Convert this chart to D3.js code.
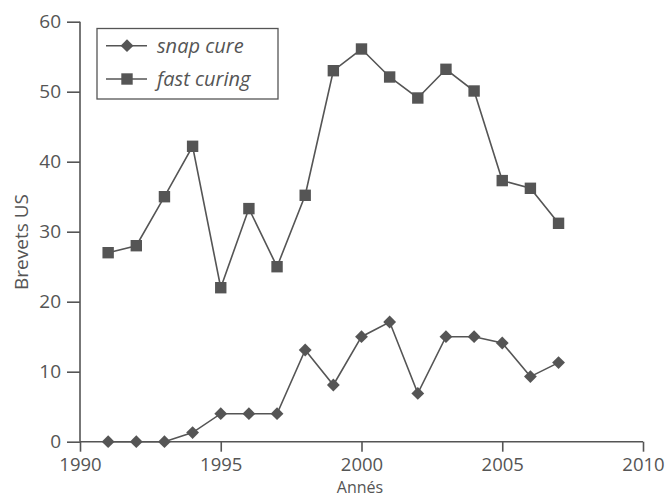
<!DOCTYPE html>
<html><head><meta charset="utf-8">
<script src="https://cdn.jsdelivr.net/npm/d3@7"></script>
<style>body{margin:0;background:#fff;} svg{display:block;font-family:"Open Sans",sans-serif;}</style>
</head><body><svg id="c" width="670" height="498"></svg>
<script>
const years = [1991,1992,1993,1994,1995,1996,1997,1998,1999,2000,2001,2002,2003,2004,2005,2006,2007];
const snapCure = [0,0,0,1.3,4,4,4,13.1,8.1,15,17.1,6.9,15,15,14.1,9.3,11.3];
const fastCuring = [27,28,35,42.2,22,33.3,25,35.2,53,56.1,52.1,49.1,53.2,50.1,37.3,36.2,31.2];
const xTicks = [1990,1995,2000,2005,2010];
const yTicks = [0,10,20,30,40,50,60];
const seriesNames = ["snap cure","fast curing"];

const col = "#555";
const svg = d3.select("#c");
const x = d3.scaleLinear().domain([1990,2010]).range([80,643]);
const y = d3.scaleLinear().domain([0,60]).range([441.7,21.7]);

// axes
const xa = svg.append("g").attr("transform","translate(0,441.7)")
  .call(d3.axisBottom(x).tickValues(xTicks).tickFormat(d3.format("d")).tickSize(10).tickPadding(6));
const ya = svg.append("g").attr("transform","translate(80,0)")
  .call(d3.axisLeft(y).tickValues(yTicks).tickSize(13).tickPadding(6));
[xa,ya].forEach(a=>{
  a.select(".domain").attr("stroke",col).attr("stroke-width",1.6);
  a.selectAll(".tick line").attr("stroke",col).attr("stroke-width",1.6);
  a.selectAll(".tick text").attr("fill",col).attr("font-size",19).attr("font-family","Open Sans, sans-serif");
});
xa.selectAll(".tick text").attr("font-size",18.5);
xa.select(".domain").attr("d",`M${x(1990)},0H${x(2010)}`);
ya.select(".domain").attr("d",`M0,${y(60)}V${y(0)}`);

svg.append("text").attr("x",360).attr("y",493).attr("text-anchor","middle")
  .attr("fill",col).attr("font-size",16).text("Annés");
svg.append("text").attr("transform","translate(28,242) rotate(-90)").attr("text-anchor","middle")
  .attr("fill",col).attr("font-size",19).text("Brevets US");

const line = d3.line().x((d,i)=>x(years[i])).y(d=>y(d));
const sq = d3.symbol().type(d3.symbolSquare).size(130);
const dm = d3.symbol().type(d3.symbolDiamond2).size(105);

function drawSeries(vals, sym){
  svg.append("path").datum(vals).attr("d",line).attr("fill","none").attr("stroke",col).attr("stroke-width",1.6);
  svg.append("g").selectAll("path").data(vals).join("path")
    .attr("transform",(d,i)=>`translate(${x(years[i])},${y(d)})`)
    .attr("d",sym).attr("fill",col);
}
drawSeries(fastCuring, sq);
drawSeries(snapCure, dm);

// legend
const lg = svg.append("g");
lg.append("rect").attr("x",97).attr("y",28.5).attr("width",181).attr("height",70.5)
  .attr("fill","#fff").attr("stroke",col).attr("stroke-width",1.3);
const syms=[dm,sq];
const ly=[45.7,79];
seriesNames.forEach((n,i)=>{
  const yy = ly[i];
  lg.append("line").attr("x1",106).attr("x2",147).attr("y1",yy).attr("y2",yy).attr("stroke",col).attr("stroke-width",1.6);
  lg.append("path").attr("transform",`translate(127,${yy})`).attr("d",syms[i]).attr("fill",col);
  lg.append("text").attr("x",157).attr("y",yy+6.8).attr("font-style","italic").attr("font-size",20)
    .attr("fill",col).text(n);
});
</script></body></html>
